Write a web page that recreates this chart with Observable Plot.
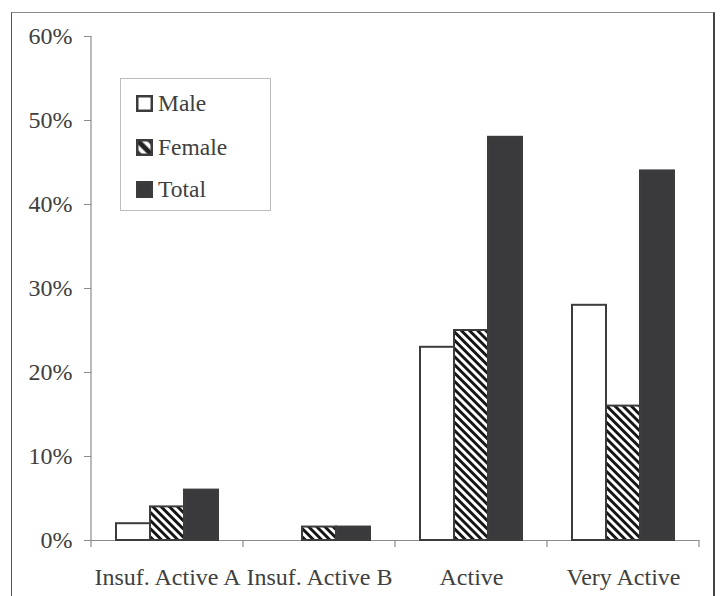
<!DOCTYPE html>
<html>
<head>
<meta charset="utf-8">
<script src="https://cdn.jsdelivr.net/npm/d3@7"></script>
<script src="https://cdn.jsdelivr.net/npm/@observablehq/plot@0.6"></script>
<style>
  html, body { margin: 0; padding: 0; background: #fff; }
  #wrap { position: relative; width: 720px; height: 596px; overflow: hidden; font-family: "Liberation Serif", "Times New Roman", serif; color: #404040; }
  #wrap > svg.plot { position: absolute; left: 0; top: 0; }
  #frame { position: absolute; left: 11px; top: 12px; width: 704px; height: 620px; border-top: 1.5px solid #8a8a8a; border-left: 1.5px solid #555; border-right: 2px solid #444; box-sizing: border-box; pointer-events: none; }
  #legend { position: absolute; left: 120px; top: 78px; width: 151px; height: 133px; border: 1px solid #bdbdbd; box-sizing: border-box; background: #fff; }
  .item { position: absolute; left: 15px; display: flex; align-items: center; font-family: "Liberation Serif", "Times New Roman", serif; font-size: 23.5px; line-height: 24px; height: 24px; color: #404040; }
  .item svg { margin-right: 5px; }
</style>
</head>
<body>
<svg width="0" height="0" style="position:absolute">
  <defs>
    <pattern id="hatch" patternUnits="userSpaceOnUse" width="5.8" height="5.8" patternTransform="rotate(45)">
      <rect width="5.8" height="5.8" fill="#fff"></rect>
      <rect width="5.8" height="2.9" fill="#151515"></rect>
    </pattern>
    <pattern id="hatchL" patternUnits="userSpaceOnUse" width="9" height="9" patternTransform="rotate(45)">
      <rect width="9" height="9" fill="#222"></rect>
      <rect width="9" height="4" y="2.5" fill="#fff"></rect>
    </pattern>
  </defs>
</svg>
<div id="wrap">
  <div id="frame"></div>
</div>
<script>
// ---- data ----
const categories = ["Insuf. Active A", "Insuf. Active B", "Active", "Very Active"];
const series = ["Male", "Female", "Total"];
const male   = [0.02, 0.0,   0.23, 0.28];
const female = [0.04, 0.016, 0.25, 0.16];
const total  = [0.06, 0.016, 0.48, 0.44];
const yTicks = [0, 0.1, 0.2, 0.3, 0.4, 0.5, 0.6];

// ---- styles ----
const fills = ["#ffffff", "url(#hatch)", "#3a3a3c"];
const legendFills = ["#ffffff", "url(#hatchL)", "#3a3a3c"];
const ink = "#3c3c3c";
const axisGray = "#8c8c8c";

const valuesBySeries = [male, female, total];
const data = [];
categories.forEach((c, i) => {
  series.forEach((s, j) => data.push({category: c, series: s, value: valuesBySeries[j][i]}));
});

const chart = Plot.plot({
  width: 720,
  height: 596,
  marginLeft: 90,
  marginRight: 21,
  marginTop: 36,
  marginBottom: 56,
  style: {fontFamily: "'Liberation Serif', 'Times New Roman', serif", fontSize: "24px", color: "#404040", background: "transparent"},
  fx: {domain: categories, padding: 0, label: null, axis: null},
  x: {domain: series, paddingInner: 0, paddingOuter: 0.735, axis: null, label: null},
  y: {domain: [0, 0.6], axis: null, label: null},
  color: {domain: series, range: fills},
  marks: [
    Plot.axisY({ticks: yTicks, tickFormat: d3.format(".0%"), tickSize: 7, tickPadding: 12, stroke: axisGray, fill: "#404040", label: null, fontSize: 24}),
    Plot.axisFx({anchor: "bottom", tickSize: 0, tickPadding: 27, fill: "#404040", label: null, fontSize: 24}),
    Plot.ruleY([0], {stroke: axisGray, strokeWidth: 1.2}),
    Plot.barY(data, {
      filter: d => d.value > 0,
      fx: "category", x: "series", y: "value",
      fill: "series", stroke: ink, strokeWidth: 2, inset: 0
    })
  ]
});
chart.classList.add("plot");
const wrap = document.getElementById("wrap");
wrap.insertBefore(chart, document.getElementById("frame"));

// axis line and category boundary ticks from the library's scales
const fxS = chart.scale("fx");
const yS = chart.scale("y");
const svg = d3.select(chart);
const g = svg.append("g").attr("stroke", axisGray).attr("stroke-width", 1.2);
const y0 = yS.apply(0), yTop = yS.apply(0.6);
const x0 = fxS.apply(categories[0]);
g.append("line").attr("x1", x0).attr("x2", x0).attr("y1", yTop).attr("y2", y0 + 7);
const edges = categories.map(c => fxS.apply(c)).concat([fxS.apply(categories[categories.length - 1]) + fxS.bandwidth]);
edges.slice(1).forEach(x => g.append("line").attr("x1", x).attr("x2", x).attr("y1", y0).attr("y2", y0 + 7));

// legend
const legend = document.createElement("div");
legend.id = "legend";
const tops = [12, 56, 98];
series.forEach((s, i) => {
  const it = document.createElement("div");
  it.className = "item";
  it.style.top = tops[i] + "px";
  it.innerHTML = `<svg width="17" height="17"><rect x="1.25" y="1.25" width="14.5" height="14.5" fill="${legendFills[i]}" stroke="${ink}" stroke-width="2.5"></rect></svg><span>${s}</span>`;
  legend.appendChild(it);
});
wrap.appendChild(legend);
</script>
</body>
</html>
